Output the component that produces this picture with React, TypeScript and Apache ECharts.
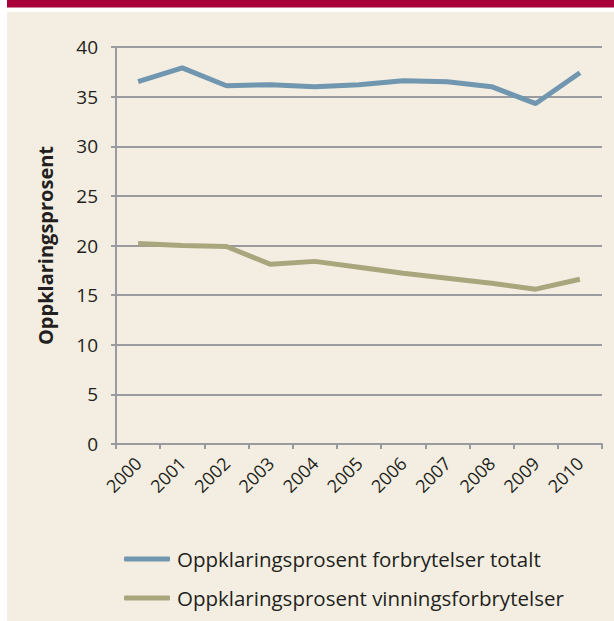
import React, { useEffect, useRef } from "react";
import * as echarts from "echarts";

const years = ["2000", "2001", "2002", "2003", "2004", "2005", "2006", "2007", "2008", "2009", "2010"];
const totalt = [36.5, 37.9, 36.1, 36.2, 36.0, 36.2, 36.6, 36.5, 36.0, 34.3, 37.4];
const vinning = [20.2, 20.0, 19.9, 18.1, 18.4, 17.8, 17.2, 16.7, 16.2, 15.6, 16.6];
const seriesNames = [
  "Oppklaringsprosent forbrytelser totalt",
  "Oppklaringsprosent vinningsforbrytelser",
];
const yAxisTitle = "Oppklaringsprosent";

const FONT = "'Open Sans', 'Noto Sans', sans-serif";
const TEXT = "#231f20";
const GRID = "#9a9b9f";

export default function App() {
  const ref = useRef<HTMLDivElement>(null);
  useEffect(() => {
    document.body.style.margin = "0";
    const chart = echarts.init(ref.current!, null, { renderer: "svg" });
    chart.setOption({
      animation: false,
      backgroundColor: "#ffffff",
      textStyle: { fontFamily: FONT },
      graphic: [
        { type: "rect", shape: { x: 7, y: 0, width: 607, height: 7.5 }, style: { fill: "#a80038" }, z: -10 },
        { type: "rect", shape: { x: 7, y: 12, width: 607, height: 609 }, style: { fill: "#f3eee1" }, z: -10 },
      ],
      grid: { left: 116, right: 12, top: 47, bottom: 177, containLabel: false },
      xAxis: {
        type: "category",
        data: years,
        boundaryGap: true,
        axisLine: { lineStyle: { color: GRID, width: 2 } },
        axisTick: { show: true, length: 5, lineStyle: { color: GRID, width: 2 } },
        axisLabel: { rotate: 45, margin: 16, fontSize: 18, color: TEXT, fontFamily: FONT, interval: 0 },
        splitLine: { show: false },
      },
      yAxis: {
        type: "value",
        min: 0,
        max: 40,
        interval: 5,
        name: yAxisTitle,
        nameLocation: "middle",
        nameGap: 61,
        nameRotate: 90,
        nameTextStyle: { fontSize: 20, fontWeight: "bold", color: TEXT, fontFamily: FONT },
        axisLine: { show: true, lineStyle: { color: GRID, width: 2 } },
        axisTick: { show: true, length: 5, lineStyle: { color: GRID, width: 2 } },
        axisLabel: { fontSize: 19, color: TEXT, margin: 18, fontFamily: FONT },
        splitLine: { show: true, lineStyle: { color: GRID, width: 2 } },
      },
      legend: {
        orient: "vertical",
        left: 119,
        top: 542,
        itemWidth: 46,
        itemHeight: 5,
        itemGap: 15,
        icon: "roundRect",
        textStyle: { fontSize: 20.5, color: TEXT, fontFamily: FONT, lineHeight: 24, padding: [0, 0, 0, 2] },
        data: seriesNames,
      },
      series: [
        {
          name: seriesNames[0],
          type: "line",
          data: totalt,
          symbol: "none",
          lineStyle: { color: "#7096b0", width: 5 },
          itemStyle: { color: "#7096b0" },
        },
        {
          name: seriesNames[1],
          type: "line",
          data: vinning,
          symbol: "none",
          lineStyle: { color: "#a9a67e", width: 5 },
          itemStyle: { color: "#a9a67e" },
        },
      ],
    });
    return () => chart.dispose();
  }, []);
  return <div ref={ref} style={{ position: "absolute", left: 0, top: 0, width: 614, height: 621 }} />;
}
